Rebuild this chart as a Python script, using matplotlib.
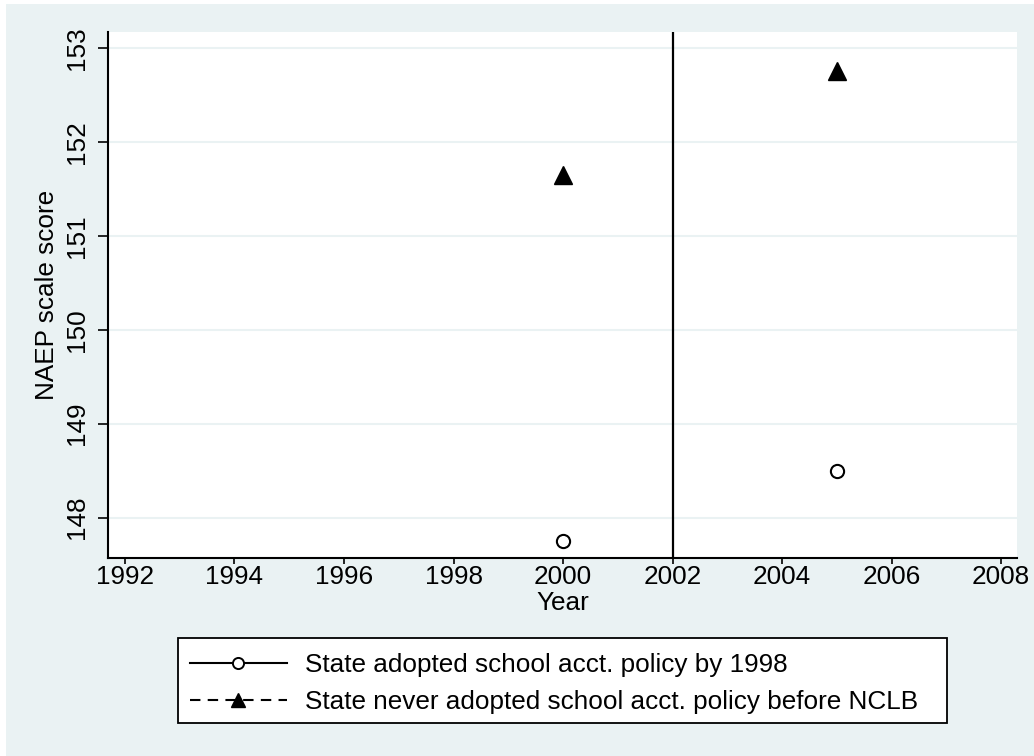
import matplotlib
matplotlib.use("Agg")
import matplotlib.pyplot as plt
from matplotlib.lines import Line2D
from matplotlib.patches import Rectangle

years = [2000, 2005]
adopted_1998 = [147.75, 148.50]
never_adopted = [151.65, 152.75]
x_ticks = [1992, 1994, 1996, 1998, 2000, 2002, 2004, 2006, 2008]
y_ticks = [148, 149, 150, 151, 152, 153]
nclb_year = 2002
labels = ["State adopted school acct. policy by 1998",
          "State never adopted school acct. policy before NCLB"]

BG = "#EAF2F3"
FS = 18.8
plt.rcParams['font.family'] = ['Liberation Sans', 'DejaVu Sans']

W, H = 1034, 756
fig = plt.figure(figsize=(W / 100, H / 100), dpi=100, facecolor="white")
fig.patches.append(Rectangle((6 / W, 0), 1 - 6 / W, 1 - 4 / H,
                             transform=fig.transFigure, facecolor=BG,
                             edgecolor="none", zorder=-10))
# legend frame
fig.patches.append(Rectangle((178 / W, 1 - 723 / H), (947 - 178) / W, (723 - 638) / H,
                             transform=fig.transFigure, facecolor="white",
                             edgecolor="black", lw=1.3, zorder=-5))

ax = fig.add_axes([108 / W, 198 / H, 909 / W, 526 / H])
ax.set_zorder(1)
ax.set_facecolor("white")
ax.set_xlim(1991.69, 2008.29)
ax.set_ylim(147.57, 153.17)

for yv in y_ticks:
    ax.axhline(yv, color=BG, lw=1.5, zorder=1)

ax.plot(years, adopted_1998, linestyle="none", marker="o", ms=9.5,
        mfc="white", mec="black", mew=1.5, zorder=3)
ax.plot(years, never_adopted, linestyle="none", marker="^", ms=12.5,
        mfc="black", mec="black", zorder=3)
ax.axvline(nclb_year, color="black", lw=1.6, zorder=2)

ax.set_xticks(x_ticks)
ax.set_yticks(y_ticks)
ax.tick_params(axis="both", direction="out", width=1.2,
               labelsize=FS, colors="black")
ax.tick_params(axis="x", length=4.3, pad=0.5)
ax.tick_params(axis="y", length=7.2, pad=6.5)
for lab in ax.get_yticklabels():
    lab.set_rotation(90)
    lab.set_va("center")

for s in ["top", "right"]:
    ax.spines[s].set_visible(False)
for s in ["left", "bottom"]:
    ax.spines[s].set_linewidth(1.5)
    ax.spines[s].set_color("black")

ax.set_xlabel("Year", fontsize=FS, labelpad=2)
ax.set_ylabel("NAEP scale score", fontsize=FS, labelpad=4)

handles = [
    Line2D([], [], color="black", lw=1.5, marker="o", ms=8, mfc="white",
           mec="black", mew=1.4),
    Line2D([], [], color="black", lw=1.5, linestyle=(0, (5, 3.5)), marker="^",
           ms=10, mfc="black", mec="black"),
]
leg = fig.legend(handles, labels, loc="center left",
                 bbox_to_anchor=(190 / W, 1 - 683.5 / H),
                 fontsize=FS, frameon=False,
                 handlelength=3.7, handletextpad=0.69, labelspacing=0.52,
                 borderpad=0, borderaxespad=0)

fig.savefig("out.png", dpi=100, facecolor=fig.get_facecolor())
